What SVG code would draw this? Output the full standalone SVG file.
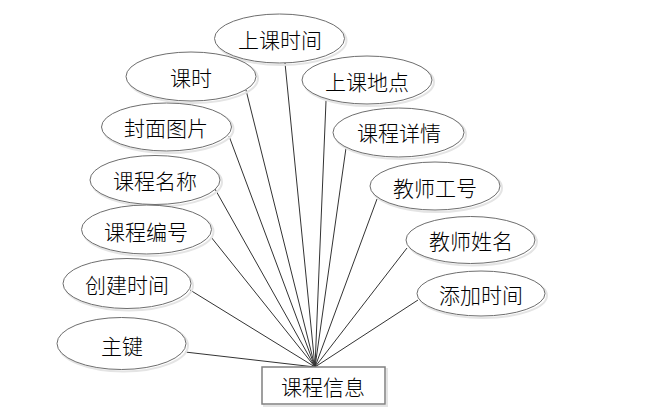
<svg xmlns="http://www.w3.org/2000/svg" width="649" height="420" viewBox="0 0 649 420">
<style>
.sh{fill:none;stroke:#e4e4e4;stroke-width:2}
.el{fill:#fff;stroke:#6e6e6e;stroke-width:1}
.t{font-family:"Noto Sans CJK SC","Noto Sans CJK JP",sans-serif;font-size:21px;font-weight:300;fill:#000;text-anchor:middle;dominant-baseline:central}
.c{stroke:#333;stroke-width:1;fill:none}
</style>
<rect width="649" height="420" fill="#fff"/>
<g id="connectors">
<line class="c" x1="285" y1="63" x2="315" y2="367"/>
<line class="c" x1="246" y1="90" x2="315" y2="367"/>
<line class="c" x1="229" y1="136" x2="315" y2="367"/>
<line class="c" x1="215" y1="189" x2="315" y2="367"/>
<line class="c" x1="211" y1="237" x2="315" y2="367"/>
<line class="c" x1="190" y1="290" x2="315" y2="367"/>
<line class="c" x1="185" y1="352" x2="315" y2="367"/>
<line class="c" x1="326" y1="101" x2="315" y2="367"/>
<line class="c" x1="346" y1="148" x2="315" y2="367"/>
<line class="c" x1="377" y1="199" x2="315" y2="367"/>
<line class="c" x1="407" y1="248" x2="315" y2="367"/>
<line class="c" x1="418" y1="300" x2="315" y2="367"/>
</g>
<g id="n-shangkeshijian"><ellipse class="sh" cx="281.5" cy="40.5" rx="65" ry="24.5"/><ellipse class="el" cx="279.5" cy="38.5" rx="65" ry="24.5"/><text class="t" x="280" y="39">上课时间</text></g>
<g id="n-keshi"><ellipse class="sh" cx="193" cy="78.5" rx="65" ry="24.5"/><ellipse class="el" cx="191" cy="76.5" rx="65" ry="24.5"/><text class="t" x="191" y="77">课时</text></g>
<g id="n-fengmian"><ellipse class="sh" cx="168.5" cy="129" rx="65" ry="24"/><ellipse class="el" cx="166.5" cy="127" rx="65" ry="24"/><text class="t" x="166" y="127">封面图片</text></g>
<g id="n-mingcheng"><ellipse class="sh" cx="157" cy="182" rx="65" ry="24.5"/><ellipse class="el" cx="155" cy="180" rx="65" ry="24.5"/><text class="t" x="155" y="180">课程名称</text></g>
<g id="n-bianhao"><ellipse class="sh" cx="148.5" cy="231.5" rx="65" ry="24.5"/><ellipse class="el" cx="146.5" cy="229.5" rx="65" ry="24.5"/><text class="t" x="146" y="231">课程编号</text></g>
<g id="n-chuangjian"><ellipse class="sh" cx="129" cy="285.5" rx="64" ry="25"/><ellipse class="el" cx="127" cy="283.5" rx="64" ry="25"/><text class="t" x="127" y="284">创建时间</text></g>
<g id="n-zhujian"><ellipse class="sh" cx="123.5" cy="345.5" rx="64.5" ry="26"/><ellipse class="el" cx="121.5" cy="343.5" rx="64.5" ry="26"/><text class="t" x="122" y="345">主键</text></g>
<g id="n-didian"><ellipse class="sh" cx="369" cy="82" rx="65" ry="24"/><ellipse class="el" cx="367" cy="80" rx="65" ry="24"/><text class="t" x="367" y="81">上课地点</text></g>
<g id="n-xiangqing"><ellipse class="sh" cx="400.5" cy="134.5" rx="65.5" ry="24.5"/><ellipse class="el" cx="398.5" cy="132.5" rx="65.5" ry="24.5"/><text class="t" x="399" y="132">课程详情</text></g>
<g id="n-gonghao"><ellipse class="sh" cx="437" cy="188" rx="65" ry="24"/><ellipse class="el" cx="435" cy="186" rx="65" ry="24"/><text class="t" x="435" y="187">教师工号</text></g>
<g id="n-xingming"><ellipse class="sh" cx="472.5" cy="242" rx="64.5" ry="23.5"/><ellipse class="el" cx="470.5" cy="240" rx="64.5" ry="23.5"/><text class="t" x="471" y="240">教师姓名</text></g>
<g id="n-tianjia"><ellipse class="sh" cx="483" cy="295.5" rx="64" ry="22.5"/><ellipse class="el" cx="481" cy="293.5" rx="64" ry="22.5"/><text class="t" x="481" y="294">添加时间</text></g>
<g id="n-kechengxinxi"><rect x="264" y="369" width="123" height="37" fill="none" stroke="#e4e4e4" stroke-width="2"/><rect x="262" y="367" width="123" height="37" fill="#fff" stroke="#808080" stroke-width="1.5"/><text class="t" x="323" y="386">课程信息</text></g>
</svg>
